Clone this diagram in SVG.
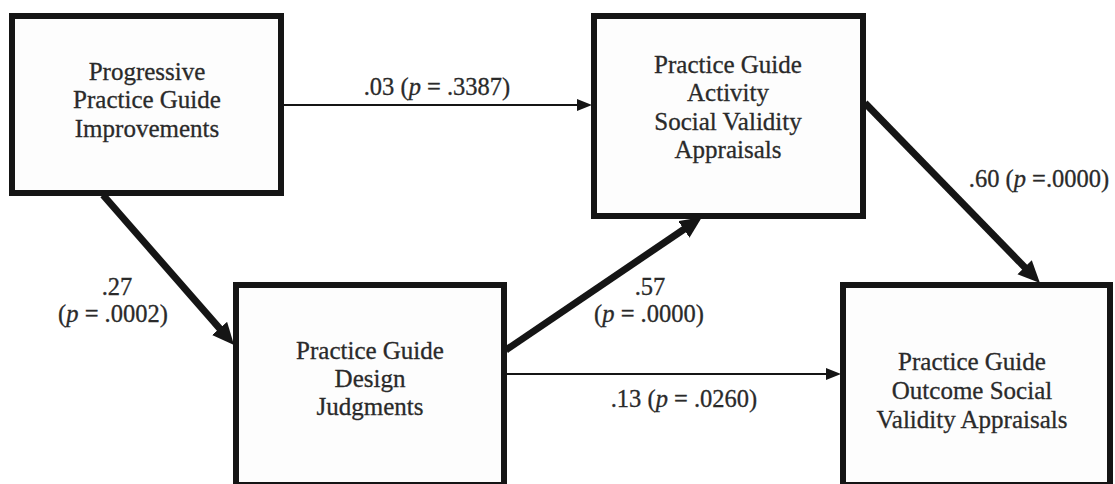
<svg xmlns="http://www.w3.org/2000/svg" width="1115" height="484" viewBox="0 0 1115 484">
  <style>
    .box { fill: #fdfdfd; stroke: #151515; stroke-width: 6; }
    .node { font-family: 'Liberation Serif', Tinos, 'Times New Roman', Times, serif; font-size: 25px; fill: #2a2a2a; stroke: #2a2a2a; stroke-width: 0.3; text-anchor: middle; }
    .lbl { font-family: 'Liberation Serif', Tinos, 'Times New Roman', Times, serif; font-size: 24.5px; fill: #2a2a2a; stroke: #2a2a2a; stroke-width: 0.3; text-anchor: middle; }
    .thick { stroke: #151515; stroke-width: 7; fill: none; }
    .thin { stroke: #151515; stroke-width: 2; fill: none; }
  </style>
  <defs>
    <marker id="headBig" markerUnits="userSpaceOnUse" markerWidth="24" markerHeight="22" refX="6" refY="10" orient="auto">
      <path d="M0,0 L22,10 L0,20 Z" fill="#151515"/>
    </marker>
    <marker id="headSmall" markerUnits="userSpaceOnUse" markerWidth="16" markerHeight="14" refX="4" refY="6" orient="auto">
      <path d="M0,0 L15,6 L0,12 Z" fill="#151515"/>
    </marker>
  </defs>
  <rect width="1115" height="484" fill="#ffffff"/>

  <!-- paths between the constructs -->
  <g id="connectors">
    <line class="thin" x1="284" y1="105" x2="581" y2="105" marker-end="url(#headSmall)"/>
    <line class="thin" x1="507" y1="374" x2="830" y2="374" marker-end="url(#headSmall)"/>
    <line class="thick" x1="103" y1="195" x2="223.5" y2="332.9" marker-end="url(#headBig)"/>
    <line class="thick" x1="506" y1="350" x2="688.8" y2="226" marker-end="url(#headBig)"/>
    <line class="thick" x1="865" y1="103" x2="1028.8" y2="271.5" marker-end="url(#headBig)"/>
  </g>

  <!-- path coefficients -->
  <g id="labels">
    <text class="lbl" x="437" y="95">.03 (<tspan font-style="italic">p</tspan> = .3387)</text>
    <text class="lbl" x="117" y="295">.27</text>
    <text class="lbl" x="113" y="322">(<tspan font-style="italic">p</tspan> = .0002)</text>
    <text class="lbl" x="650" y="295">.57</text>
    <text class="lbl" x="649" y="322">(<tspan font-style="italic">p</tspan> = .0000)</text>
    <text class="lbl" x="684" y="407">.13 (<tspan font-style="italic">p</tspan> = .0260)</text>
    <text class="lbl" x="1039" y="187">.60 (<tspan font-style="italic">p</tspan> =.0000)</text>
  </g>

  <g id="improvements">
    <rect class="box" x="12" y="16" width="269" height="177"/>
    <text class="node" x="147" y="80">Progressive</text>
    <text class="node" x="147" y="108">Practice Guide</text>
    <text class="node" x="147" y="137">Improvements</text>
  </g>

  <g id="activity">
    <rect class="box" x="594" y="16" width="269" height="200"/>
    <text class="node" x="728" y="73">Practice Guide</text>
    <text class="node" x="728" y="101">Activity</text>
    <text class="node" x="728" y="130">Social Validity</text>
    <text class="node" x="728" y="158">Appraisals</text>
  </g>

  <g id="design">
    <rect class="box" x="236" y="285" width="268" height="200"/>
    <text class="node" x="370" y="359">Practice Guide</text>
    <text class="node" x="370" y="387">Design</text>
    <text class="node" x="370" y="415">Judgments</text>
  </g>

  <g id="outcome">
    <rect class="box" x="843" y="285" width="267" height="200"/>
    <text class="node" x="972" y="370">Practice Guide</text>
    <text class="node" x="972" y="399">Outcome Social</text>
    <text class="node" x="972" y="428">Validity Appraisals</text>
  </g>
</svg>
